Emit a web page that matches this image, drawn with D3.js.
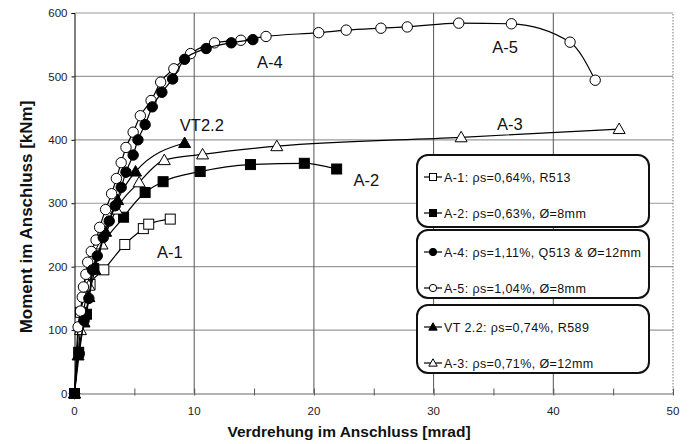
<!DOCTYPE html>
<html><head><meta charset="utf-8">
<script src="https://cdn.jsdelivr.net/npm/d3@7"></script>
<style>body{margin:0;background:#fff}svg{display:block;font-family:"Liberation Sans",Arial,sans-serif}</style>
</head><body>
<svg id="c" width="691" height="444"></svg>
<script>
// ---- data ----
const xTicks = [0,10,20,30,40,50];
const yTicks = [0,100,200,300,400,500,600];
const a1X = [0,0.5,1.3,2.45,4.2,5.75,6.2,8.0];
const a1Y = [0,128,172,195,235,260,267,275];
const a2X = [0,0.35,1.0,1.6,4.1,5.9,7.4,10.5,14.7,19.2,21.9];
const a2Y = [0,65,125,197,278,317,334,350,361,363,354];
const vtX = [0,0.3,0.8,1.2,1.7,2.6,3.6,5.1,9.2];
const vtY = [0,60,112,152,195,255,305,350,395];
const a3X = [0,0.5,1.2,2.3,3.5,5.4,7.5,10.7,16.9,32.3,45.5];
const a3Y = [0,100,170,235,290,333,368,377,390,404,417];
const a4X = [0,0.4,0.8,1.2,1.5,1.9,2.4,2.9,3.4,3.9,4.3,4.9,5.3,5.9,6.5,7.3,8.2,9.2,11.0,13.1,14.9];
const a4Y = [0,63,115,150,195,217,246,272,296,325,349,376,400,424,452,475,496,527,544,553,558];
const a5X = [0,0.3,0.5,0.65,0.75,0.95,1.1,1.4,1.8,2.1,2.6,3.1,3.5,3.9,4.3,4.9,5.5,6.4,7.2,8.3,9.7,11.7,13.9,16.0,20.4,22.7,25.6,27.8,32.1,36.5,41.4,43.5];
const a5Y = [0,105,130,152,168,188,207,224,242,262,290,315,339,364,388,412,438,462,491,512,536,553,557,563,569,573,576,578,584,583,554,494];
const legendLabels = [
  ["A-1: ρs=0,64%, R513","A-2: ρs=0,63%, Ø=8mm"],
  ["A-4: ρs=1,11%, Q513 & Ø=12mm","A-5: ρs=1,04%, Ø=8mm"],
  ["VT 2.2: ρs=0,74%, R589","A-3: ρs=0,71%, Ø=12mm"]
];
const curveLabels = [
  {t:"A-4",x:15.25,y:513},{t:"A-5",x:34.9,y:537},{t:"A-3",x:35.3,y:415},
  {t:"A-2",x:23.3,y:327},{t:"A-1",x:6.9,y:213},{t:"VT2.2",x:8.8,y:414}
];

// ---- chart ----
const svg = d3.select("#c");
const W = 691, H = 444;
const m = {l:74.5, r:691-673, t:13, b:444-393.5};
const x = d3.scaleLinear().domain([0,50]).range([m.l, W-m.r]);
const y = d3.scaleLinear().domain([0,600]).range([H-m.b, m.t]);

const zip = (a,b)=>a.map((v,i)=>[v,b[i]]);
const series = [
  {name:"A-1", d:zip(a1X,a1Y), sym:"square", fill:"#fff"},
  {name:"A-2", d:zip(a2X,a2Y), sym:"square", fill:"#000"},
  {name:"A-3", d:zip(a3X,a3Y), sym:"triangle", fill:"#fff"},
  {name:"VT 2.2", d:zip(vtX,vtY), sym:"triangle", fill:"#000"},
  {name:"A-5", d:zip(a5X,a5Y), sym:"circle", fill:"#fff"},
  {name:"A-4", d:zip(a4X,a4Y), sym:"circle", fill:"#000"}
];

// gridlines
const g = svg.append("g");
g.selectAll(".hg").data(yTicks.slice(1)).join("line")
  .attr("x1",x(0)).attr("x2",x(50)).attr("y1",d=>y(d)).attr("y2",d=>y(d))
  .attr("stroke","#9a9a9a").attr("stroke-width",1.2);
g.selectAll(".vg").data([10,20,30,40]).join("line")
  .attr("x1",d=>x(d)).attr("x2",d=>x(d)).attr("y1",y(0)).attr("y2",y(600))
  .attr("stroke","#555").attr("stroke-width",1);
g.append("line").attr("x1",x(50)).attr("x2",x(50)).attr("y1",y(0)).attr("y2",y(600))
  .attr("stroke","#777").attr("stroke-dasharray","1.5,1.5");

// x axis
const xAxis = d3.axisBottom(x).tickValues(d3.range(0,51,5)).tickSize(0).tickFormat("");
const xg = svg.append("g").attr("transform",`translate(0,${y(0)})`).call(xAxis);
xg.select(".domain").attr("stroke","#9a9a9a").attr("stroke-width",1.5);
xg.selectAll(".tick line").attr("y1",-5).attr("y2",2).attr("stroke","#555");
svg.append("g").selectAll("text").data(xTicks).join("text")
  .attr("x",d=>x(d)).attr("y",y(0)+21).attr("text-anchor","middle")
  .attr("font-size",11.5).attr("fill","#222").text(d=>d);

// y axis
const yAxis = d3.axisLeft(y).tickValues(yTicks).tickSize(3).tickPadding(4);
const yg = svg.append("g").attr("transform",`translate(${x(0)},0)`).call(yAxis);
yg.select(".domain").attr("stroke","#000").attr("stroke-width",1);
yg.selectAll(".tick text").attr("font-size",11.5).attr("fill","#222").attr("font-family","Liberation Sans, Arial");

// axis titles
svg.append("text").attr("x",349).attr("y",437).attr("text-anchor","middle")
  .attr("font-weight","bold").attr("font-size",15.5).attr("fill","#111")
  .text("Verdrehung im Anschluss [mrad]");
svg.append("text").attr("transform","translate(32,217) rotate(-90)").attr("text-anchor","middle")
  .attr("font-weight","bold").attr("font-size",17).attr("fill","#111")
  .text("Moment im Anschluss [kNm]");

// lines
const line = d3.line().x(d=>x(d[0])).y(d=>y(d[1])).curve(d3.curveMonotoneX);
const sg = svg.append("g");
function drawMarker(sel, sym, fill, s){
  if(sym==="circle") sel.append("circle").attr("r",s*0.52).attr("fill",fill).attr("stroke","#000").attr("stroke-width",1);
  else if(sym==="square") sel.append("rect").attr("x",-s/2).attr("y",-s/2).attr("width",s).attr("height",s).attr("fill",fill).attr("stroke","#000").attr("stroke-width",1);
  else sel.append("path").attr("d",`M0,${-s*0.6}L${s*0.6},${s*0.45}L${-s*0.6},${s*0.45}Z`).attr("fill",fill).attr("stroke","#000").attr("stroke-width",1);
}
series.forEach(s=>{
  sg.append("path").datum(s.d).attr("d",line).attr("fill","none").attr("stroke","#000").attr("stroke-width",1.2);
  s.d.forEach(p=>{
    const mg = sg.append("g").attr("transform",`translate(${x(p[0])},${y(p[1])})`);
    drawMarker(mg, s.sym, s.fill, 10);
  });
});

// curve labels
svg.append("g").selectAll("text").data(curveLabels).join("text")
  .attr("x",d=>x(d.x)).attr("y",d=>y(d.y)).attr("font-size",16.5).attr("fill","#111").text(d=>d.t);

// legend
const boxes = [{y0:155,y1:227},{y0:230,y1:298},{y0:305,y1:373}];
const legSym = [[series[0],series[1]],[series[5],series[4]],[series[3],series[2]]];
const lg = svg.append("g");
boxes.forEach((b,i)=>{
  lg.append("rect").attr("x",417).attr("y",b.y0).attr("width",232).attr("height",b.y1-b.y0)
    .attr("rx",11).attr("fill","#fff").attr("stroke","#111").attr("stroke-width",2);
  [0,1].forEach(j=>{
    const cy = b.y0 + (j===0 ? 22 : 58);
    const s = legSym[i][j];
    lg.append("line").attr("x1",424).attr("x2",442).attr("y1",cy).attr("y2",cy).attr("stroke","#000").attr("stroke-width",1.2);
    drawMarker(lg.append("g").attr("transform",`translate(433,${cy})`), s.sym, s.fill, 7);
    lg.append("text").attr("x",444).attr("y",cy+4.5).attr("font-size",12.5).attr("letter-spacing",0.4).attr("fill","#111").text(legendLabels[i][j]);
  });
});
</script>
</body></html>
